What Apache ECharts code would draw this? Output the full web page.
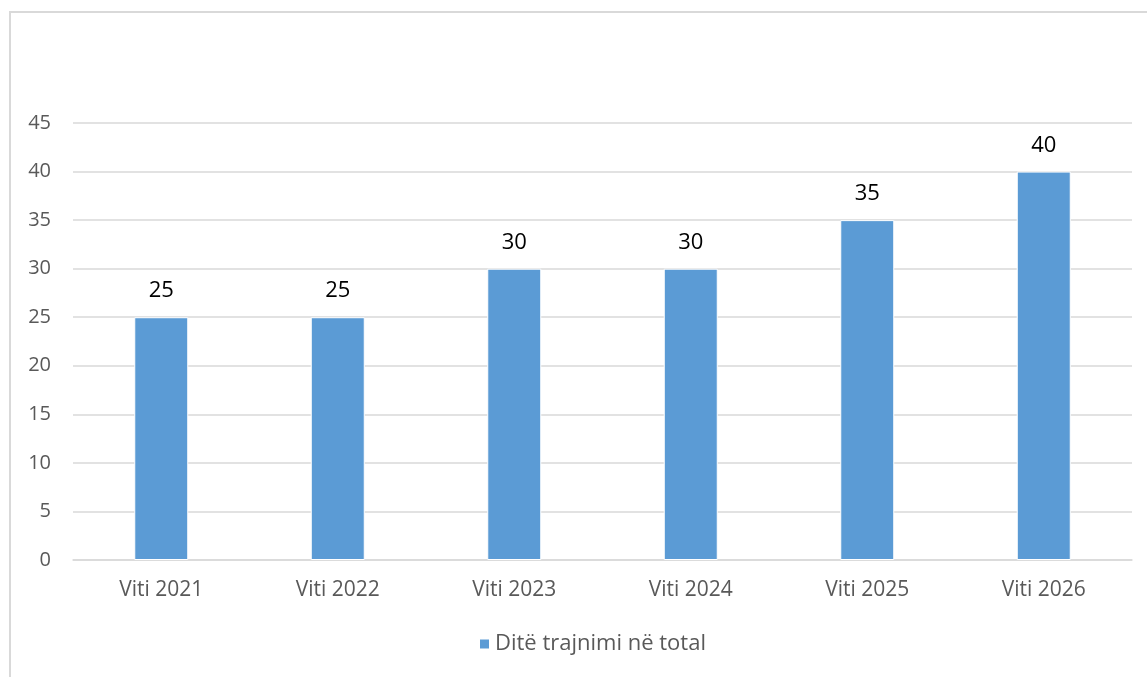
<!DOCTYPE html>
<html>
<head>
<meta charset="utf-8">
<script src="https://cdn.jsdelivr.net/npm/echarts@6/dist/echarts.min.js"></script>
<style>
  html, body { margin: 0; padding: 0; background: #fff; }
  #frame {
    position: absolute; left: 9px; top: 11px; width: 1200px; height: 700px;
    border-top: 2px solid #d9d9d9; border-left: 2px solid #d9d9d9;
  }
  #chart { position: absolute; left: 0; top: 0; width: 1147px; height: 677px; }
</style>
</head>
<body>
<div id="frame"></div>
<div id="chart"></div>
<script>
const categories = ['Viti 2021', 'Viti 2022', 'Viti 2023', 'Viti 2024', 'Viti 2025', 'Viti 2026'];
const trainingDays = [25, 25, 30, 30, 35, 40];
const seriesName = 'Ditë trajnimi në total';

const myChart = echarts.init(document.getElementById('chart'));
const option = {
  animation: false,
  textStyle: { fontFamily: 'Open Sans, Liberation Sans, sans-serif' },
  grid: { left: 73, right: 15, top: 123, bottom: 117 },
  legend: {
    data: [seriesName],
    bottom: 17,
    left: 473,
    icon: 'rect',
    itemWidth: 11,
    itemHeight: 11,
    itemGap: 8,
    textStyle: { fontSize: 22, color: '#595959' }
  },
  xAxis: {
    type: 'category',
    data: categories,
    axisLine: { lineStyle: { color: '#d9d9d9', width: 1.5 } },
    axisTick: { show: false },
    axisLabel: { fontSize: 21, color: '#595959', margin: 20 }
  },
  yAxis: {
    type: 'value',
    min: 0,
    max: 45,
    interval: 5,
    axisLine: { show: false },
    axisTick: { show: false },
    axisLabel: { fontSize: 20, color: '#595959', margin: 22 },
    splitLine: { lineStyle: { color: '#d9d9d9', width: 1.5 } }
  },
  series: [{
    name: seriesName,
    type: 'bar',
    data: trainingDays,
    barWidth: 54,
    itemStyle: { color: '#5b9bd5', borderColor: '#fff', borderWidth: 1 },
    label: {
      show: true,
      position: 'top',
      distance: 15,
      fontSize: 22,
      color: '#000'
    }
  }]
};
myChart.setOption(option);
</script>
</body>
</html>
